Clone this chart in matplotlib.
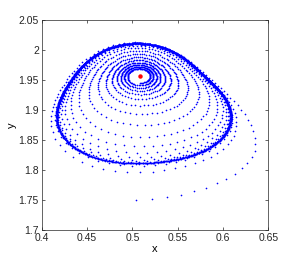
import numpy as np
import matplotlib
matplotlib.use("Agg")
import matplotlib.pyplot as plt
from matplotlib.ticker import FormatStrFormatter

# equilibrium (red dot) and middle of the limit cycle
eq_x, eq_y = 0.508, 1.957
mid_x, mid_y = 0.514, 1.912

# limit cycle outline (counter-clockwise from the bottom)
cycle_x = [0.5195, 0.5416, 0.575, 0.597, 0.606, 0.608, 0.602, 0.595, 0.5876, 0.580,
           0.567, 0.5416, 0.525, 0.5085, 0.485, 0.461, 0.445, 0.437, 0.426, 0.420,
           0.422, 0.428, 0.442, 0.472]
cycle_y = [1.814, 1.817, 1.829, 1.845, 1.867, 1.889, 1.911, 1.933, 1.944, 1.957,
           1.978, 2.000, 2.007, 2.010, 2.005, 1.992, 1.980, 1.964, 1.928, 1.883,
           1.861, 1.842, 1.828, 1.817]

# angular speed along the orbit (relative), by angle around the middle
speed_deg = [-155, -93, -29, 7, 34, 67, 93, 120, 150, 180]
speed_w = [1.6, 2.2, 1.2, 1.0, 1.1, 1.0, 0.95, 1.1, 0.9, 1.0]

# how far the outer orbit sits from the cycle, by angle around the middle
spread_deg = [-163, -93, -29, 7, 34, 67, 93, 120, 150]
spread_w = [0.5, 1.0, 1.0, 0.3, 0.15, 0.1, 0.12, 0.25, 0.4]

# inner orbit: size relative to the limit cycle, one value per turn
inner_scale = [0.115, 0.15, 0.19, 0.23, 0.28, 0.34, 0.42, 0.52, 0.64, 0.76, 0.85,
               0.91, 0.95, 0.972, 0.984, 0.99, 0.994, 0.996, 0.998, 0.999, 1.0,
               1.0, 1.0, 1.0, 1.0, 1.0, 1.0, 1.0]
inner_ax, inner_ay = 0.094, 0.098

# outer orbit: start point and excess size, one value per quarter turn
outer_start = (0.4993, 1.750)
outer_excess = [0.45, 0.32, 0.22, 0.16, 0.11, 0.08, 0.056, 0.04, 0.03, 0.024,
                0.019, 0.015, 0.012, 0.01, 0.008, 0.0065, 0.005, 0.004, 0.003,
                0.0022, 0.0015, 0.001, 0.0]

steps_per_turn = 88.7

xticks = [0.4, 0.45, 0.5, 0.55, 0.6, 0.65]
yticks = [1.7, 1.75, 1.8, 1.85, 1.9, 1.95, 2.0, 2.05]

# smooth periodic fit of the outline radius around the middle
cx = np.array(cycle_x) - mid_x
cy = np.array(cycle_y) - mid_y
c_ang = np.arctan2(cy, cx)
c_r = np.hypot(cx, cy)
order_n = 3


def basis(u):
    u = np.atleast_1d(u)
    cols = [np.ones_like(u)]
    for n in range(1, order_n + 1):
        cols += [np.cos(n * u), np.sin(n * u)]
    return np.stack(cols, axis=-1)


coef, *_ = np.linalg.lstsq(basis(c_ang), c_r, rcond=None)


def cycle_pt(u):
    r = basis(u) @ coef
    return mid_x + r * np.cos(u), mid_y + r * np.sin(u)


def angles(u0, turns):
    # angle of every step, with uneven speed round the orbit
    g = np.linspace(0, 2 * np.pi, 721)
    w = np.interp(u0 + g, np.radians(speed_deg), speed_w, period=2 * np.pi)
    tau = np.concatenate([[0], np.cumsum(np.diff(g) / w[1:])])
    tau /= tau[-1]
    k = np.arange(int(turns * steps_per_turn))
    t = k / steps_per_turn
    return 2 * np.pi * np.floor(t) + np.interp(t % 1, tau, g)


# inner trajectory
u0 = -np.pi / 2
phi_in = angles(u0, len(inner_scale) - 1)
s = np.interp(phi_in, 2 * np.pi * np.arange(len(inner_scale)), inner_scale)
u = u0 + phi_in
px, py = cycle_pt(u)
in_x = eq_x + s * ((1 - s) * inner_ax * np.cos(u) + s * (px - eq_x))
in_y = eq_y + s * ((1 - s) * inner_ay * np.sin(u) + s * (py - eq_y))

# outer trajectory
u0o = np.arctan2(outer_start[1] - mid_y, outer_start[0] - mid_x)
phi_out = angles(u0o, (len(outer_excess) - 1) / 4 + 4)
e = np.interp(phi_out, np.pi / 2 * np.arange(len(outer_excess)), outer_excess)
uo = u0o + phi_out
pox, poy = cycle_pt(uo)
gw = np.interp(uo, np.radians(spread_deg), spread_w, period=2 * np.pi)
sx, sy = cycle_pt(u0o)
g0 = np.interp(u0o, np.radians(spread_deg), spread_w, period=2 * np.pi)
k0 = (outer_start[1] - eq_y) / (sy[0] - eq_y) - 1
fo = 1 + e / outer_excess[0] * k0 * gw / g0
out_x = eq_x + (pox - eq_x) * fo
out_y = eq_y + (poy - eq_y) * fo

plt.rcParams['font.family'] = ['Liberation Sans', 'DejaVu Sans']
fig = plt.figure(figsize=(2.97, 2.70), dpi=100)
ax = fig.add_axes([0.1404, 0.1481, 0.763, 0.7778])

ax.plot(in_x, in_y, 'o', color='b', ms=1.2, mew=0)
ax.plot(out_x, out_y, 'o', color='b', ms=1.2, mew=0)
ax.plot(eq_x, eq_y, 'o', color='r', ms=3.2, mew=0)

ax.set_xlim(0.4, 0.65)
ax.set_ylim(1.7, 2.05)
ax.set_xticks(xticks)
ax.set_yticks(yticks)
ax.xaxis.set_major_formatter(FormatStrFormatter('%g'))
ax.yaxis.set_major_formatter(FormatStrFormatter('%g'))
ax.tick_params(direction='in', length=2.5, width=0.5, labelsize=7.5,
               top=True, right=True, colors='#262626', pad=2)
for sp in ax.spines.values():
    sp.set_linewidth(0.5)
    sp.set_color('#262626')
ax.set_xlabel('x', fontsize=8, labelpad=1)
ax.set_ylabel('y', fontsize=8, labelpad=1)

fig.savefig('out.png', dpi=100)
